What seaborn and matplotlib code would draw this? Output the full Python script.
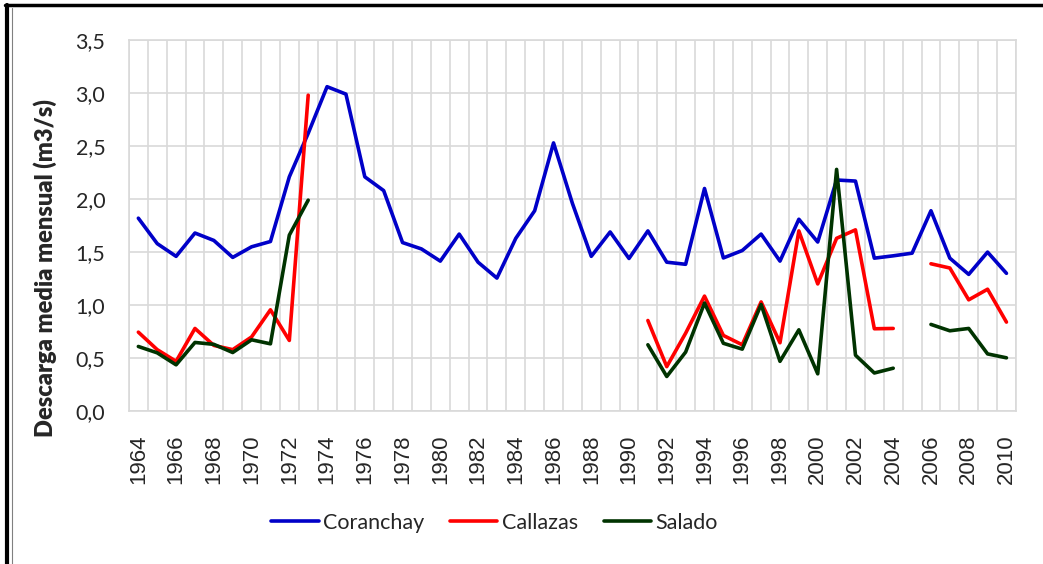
import numpy as np
import pandas as pd
import matplotlib
matplotlib.use("Agg")
import matplotlib.pyplot as plt
from matplotlib.lines import Line2D
from matplotlib.ticker import FixedLocator, FuncFormatter
import seaborn as sns

nan = np.nan
years = list(range(1964, 2011))

coranchay = [1.82, 1.58, 1.46, 1.68, 1.61, 1.45, 1.55, 1.60, 2.21, 2.62,
             3.06, 2.99, 2.21, 2.08, 1.59, 1.53, 1.415, 1.67, 1.405, 1.255,
             1.63, 1.89, 2.53, 1.96, 1.46, 1.69, 1.44, 1.70, 1.405, 1.385,
             2.10, 1.445, 1.515, 1.67, 1.415, 1.81, 1.595, 2.18, 2.17, 1.443,
             1.465, 1.49, 1.89, 1.443, 1.29, 1.50, 1.30]

callazas = [0.745, 0.58, 0.47, 0.78, 0.62, 0.58, 0.70, 0.956, 0.667, 2.98,
            nan, nan, nan, nan, nan, nan, nan, nan, nan, nan,
            nan, nan, nan, nan, nan, nan, nan, 0.855, 0.42, 0.735,
            1.085, 0.714, 0.626, 1.03, 0.645, 1.70, 1.20, 1.63, 1.71, 0.777,
            0.78, nan, 1.39, 1.35, 1.05, 1.15, 0.84]

salado = [0.61, 0.55, 0.437, 0.648, 0.63, 0.553, 0.673, 0.635, 1.66, 1.99,
          nan, nan, nan, nan, nan, nan, nan, nan, nan, nan,
          nan, nan, nan, nan, nan, nan, nan, 0.626, 0.327, 0.557,
          1.02, 0.64, 0.585, 1.006, 0.47, 0.767, 0.352, 2.28, 0.528, 0.36,
          0.405, nan, 0.818, 0.758, 0.78, 0.54, 0.503]

series_names = ["Coranchay", "Callazas", "Salado"]
colors = {"Coranchay": "#0000C8", "Callazas": "#FF0000", "Salado": "#003300"}

# long table, with a segment id so gaps (missing years) break the lines
rows = []
for name, vals in zip(series_names, [coranchay, callazas, salado]):
    seg = 0
    prev_nan = False
    for y, v in zip(years, vals):
        if np.isnan(v):
            prev_nan = True
            continue
        if prev_nan:
            seg += 1
            prev_nan = False
        rows.append({"year": y, "value": v, "serie": name, "seg": f"{name}_{seg}"})
df = pd.DataFrame(rows)

sns.set_style("white")
plt.rcParams["font.family"] = ["Lato", "DejaVu Sans"]

fig = plt.figure(figsize=(10.43, 5.64), dpi=100)
ax = fig.add_axes([0.1236, 0.271, 0.8504, 0.658])

sns.lineplot(data=df, x="year", y="value", hue="serie", units="seg",
             estimator=None, palette=colors, hue_order=series_names,
             linewidth=2.6, ax=ax, legend=False, sort=True)

ax.set_xlim(1963.5, 2010.5)
ax.set_ylim(0, 3.5)
ax.set_xticks(years[::2])
ax.xaxis.set_minor_locator(FixedLocator([y + 0.5 for y in range(1963, 2011)]))
ax.set_yticks(np.arange(0, 3.51, 0.5))
ax.yaxis.set_major_formatter(FuncFormatter(lambda v, p: f"{v:.1f}".replace(".", ",")))

ax.grid(False)
ax.grid(which="minor", axis="x", color="#d9d9d9", linewidth=1.2)
ax.grid(which="major", axis="y", color="#d9d9d9", linewidth=1.2)
ax.set_axisbelow(True)
for s in ax.spines.values():
    s.set_color("#d9d9d9")
    s.set_linewidth(1.2)

ax.tick_params(axis="both", which="both", length=0)
ax.tick_params(axis="x", pad=17)
ax.tick_params(axis="y", pad=17)
for lab in ax.get_xticklabels():
    lab.set_rotation(90)
    lab.set_fontfamily(["Liberation Sans", "DejaVu Sans"])
    lab.set_fontsize(16)
for lab in ax.get_yticklabels():
    lab.set_fontsize(15.5)

ax.set_xlabel("")
ax.set_ylabel("Descarga media mensual (m3/s)", fontsize=17, fontweight="heavy")
ax.yaxis.set_label_coords(-0.081, 0.385)

handles = [Line2D([0], [0], color=colors[n], linewidth=2.6) for n in series_names]
fig.legend(handles, series_names, loc="center", bbox_to_anchor=(0.474, 0.073),
           ncol=3, frameon=False, fontsize=15.5, handlelength=2.2,
           columnspacing=1.2, handletextpad=0.2)

# outer frame lines of the original image
fig.add_artist(Line2D([0.005, 1.0], [0.991, 0.991], color="black", linewidth=2.5,
                      transform=fig.transFigure))
fig.add_artist(Line2D([0.0065, 0.0065], [0.0, 0.991], color="black", linewidth=3,
                      transform=fig.transFigure))
fig.add_artist(Line2D([0.0115, 0.0115], [0.0, 0.985], color="#808080", linewidth=0.8,
                      transform=fig.transFigure))

fig.savefig("out.png", dpi=100)
